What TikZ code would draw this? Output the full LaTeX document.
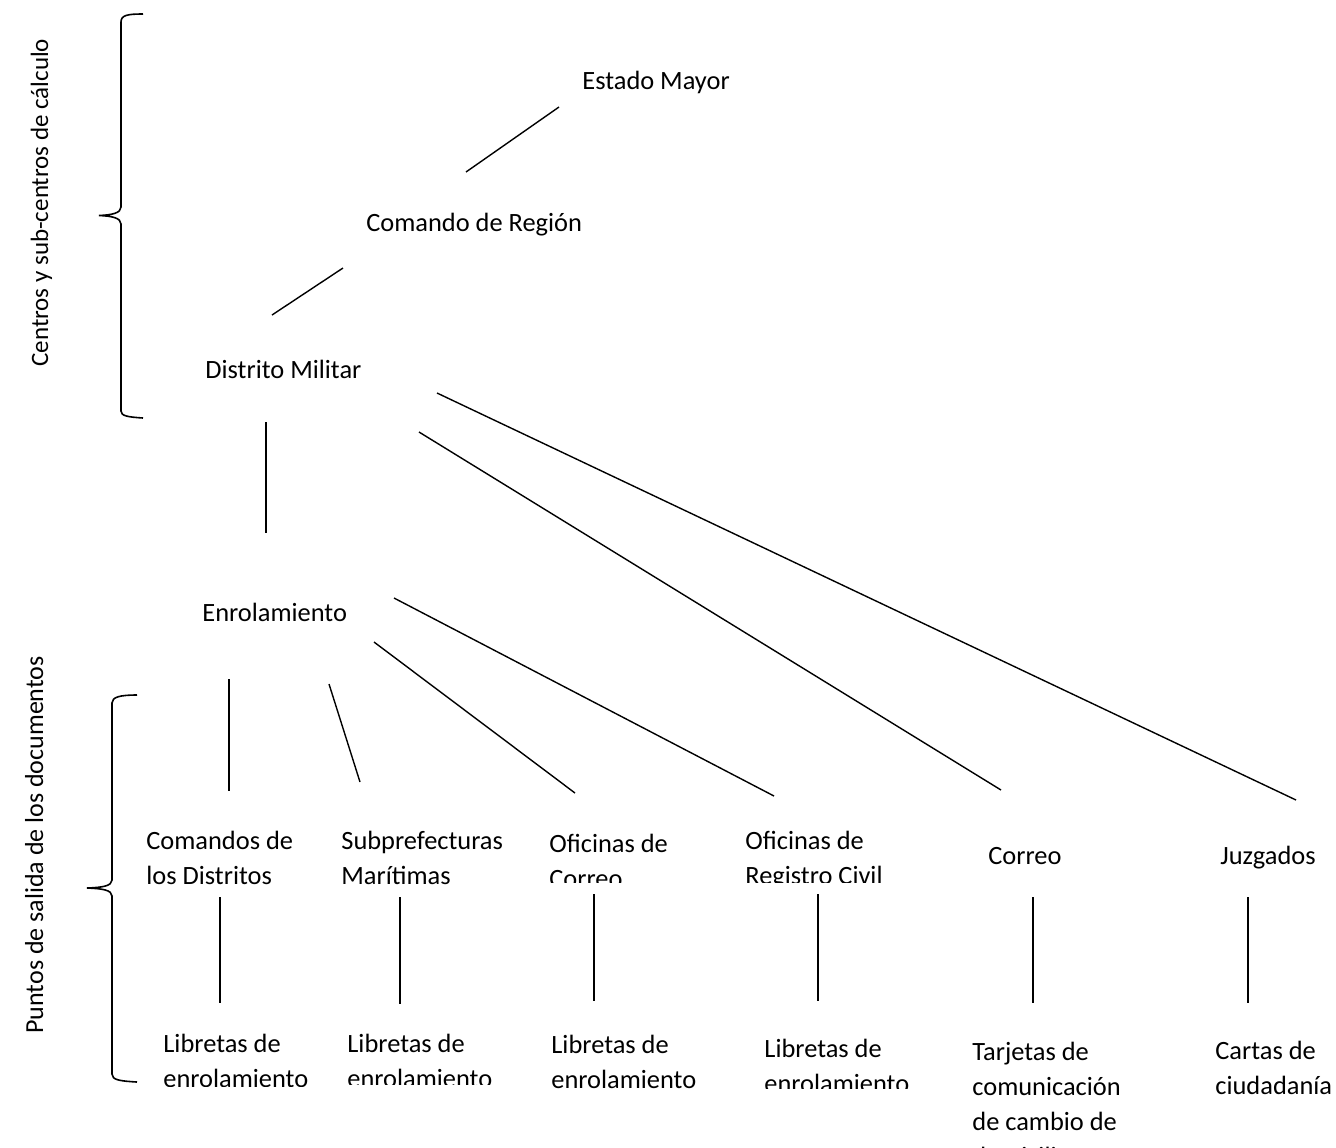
\documentclass[tikz,border=0pt]{standalone}
\usepackage{fontspec}
\setmainfont{Carlito}
\begin{document}
\begin{tikzpicture}[x=0.5pt,y=-0.5pt,
  lbl/.style={anchor=base west, inner sep=0pt, font=\fontsize{13.2}{17.5}\selectfont, align=left},
  side/.style={anchor=base west, inner sep=0pt, rotate=90, font=\fontsize{12.5}{17.5}\selectfont},
  ln/.style={line width=0.7pt},
  brace/.style={line width=0.8pt}]
\useasboundingbox (0,0) rectangle (1336,1147);
\clip (0,0) rectangle (1336,1147);

% side labels
\node[side] (s1) at (48,367) {Centros y sub-centros de cálculo};
\node[side, font=\fontsize{13}{17.5}\selectfont] (s2) at (43,1034) {Puntos de salida de los documentos};

% braces
\draw[brace] (143,14) .. controls (128,14) and (121,15) .. (121,22) -- (121,207)
  .. controls (121,213) and (112,215) .. (99,215.5)
  .. controls (112,216) and (121,218) .. (121,224) -- (121,411)
  .. controls (121,416) and (128,417) .. (143,418);
\draw[brace] (137,695) .. controls (120,695) and (112,697) .. (112,703) -- (112,880)
  .. controls (112,886) and (102,887.5) .. (87,888)
  .. controls (102,888.5) and (112,890) .. (112,896) -- (112,1074)
  .. controls (112,1080) and (120,1081) .. (137,1082);

% upper hierarchy
\node[lbl] (em) at (582,89) {Estado Mayor};
\node[lbl] (cr) at (366,231) {Comando de Región};
\node[lbl] (dm) at (205,378) {Distrito Militar};
\node[lbl] (en) at (202,621) {Enrolamiento};

% middle row (clipped text boxes; anchor = baseline of last line)
\begin{scope}\clip (140,800) rectangle (330,890);
\node[lbl] (cd) at (146,884) {Comandos de\\los Distritos};\end{scope}
\begin{scope}\clip (335,800) rectangle (530,885);
\node[lbl] (sm) at (341,884) {Subprefecturas\\Marítimas};\end{scope}
\begin{scope}\clip (540,800) rectangle (730,882);
\node[lbl] (oc) at (549,887) {Oficinas de\\Correo};\end{scope}
\begin{scope}\clip (740,800) rectangle (930,882);
\node[lbl] (orc) at (745,884) {Oficinas de\\Registro Civil};\end{scope}
\node[lbl] (co) at (988,864) {Correo};
\node[lbl] (ju) at (1220,864) {Juzgados};

% bottom row
\begin{scope}\clip (155,1000) rectangle (335,1086);
\node[lbl] (l1) at (163,1087) {Libretas de\\enrolamiento};\end{scope}
\begin{scope}\clip (340,1000) rectangle (540,1084);
\node[lbl] (l2) at (347,1087) {Libretas de\\enrolamiento};\end{scope}
\node[lbl] (l3) at (551,1088) {Libretas de\\enrolamiento};
\begin{scope}\clip (755,1000) rectangle (950,1088);
\node[lbl] (l4) at (764,1092) {Libretas de\\enrolamiento};\end{scope}
\node[lbl] (tj) at (972,1165) {Tarjetas de\\comunicación\\de cambio de\\domicilio};
\node[lbl] (cc) at (1215,1094) {Cartas de\\ciudadanía};

% connector endpoints
\coordinate (a1) at (559,107); \coordinate (a2) at (466,172);
\coordinate (b1) at (343,268); \coordinate (b2) at (272,315);
\coordinate (c1) at (437,393); \coordinate (c2) at (1296,800);
\coordinate (d1) at (419,432); \coordinate (d2) at (1001,790);
\coordinate (e1) at (266,422); \coordinate (e2) at (266,533);
\coordinate (f1) at (394,598); \coordinate (f2) at (774,796);
\coordinate (g1) at (374,642); \coordinate (g2) at (575,793);
\coordinate (h1) at (329,684); \coordinate (h2) at (360,782);
\coordinate (i1) at (229,679); \coordinate (i2) at (229,791);
\coordinate (v1a) at (220,897); \coordinate (v1b) at (220,1003);
\coordinate (v2a) at (400,897); \coordinate (v2b) at (400,1004);
\coordinate (v3a) at (594,894); \coordinate (v3b) at (594,1001);
\coordinate (v4a) at (818,894); \coordinate (v4b) at (818,1001);
\coordinate (v5a) at (1033,897); \coordinate (v5b) at (1033,1003);
\coordinate (v6a) at (1248,897); \coordinate (v6b) at (1248,1003);

\foreach \p/\q in {a1/a2,b1/b2,c1/c2,d1/d2,e1/e2,f1/f2,g1/g2,h1/h2,i1/i2,
  v1a/v1b,v2a/v2b,v3a/v3b,v4a/v4b,v5a/v5b,v6a/v6b}
  \draw[ln] (\p) -- (\q);
\end{tikzpicture}
\end{document}
